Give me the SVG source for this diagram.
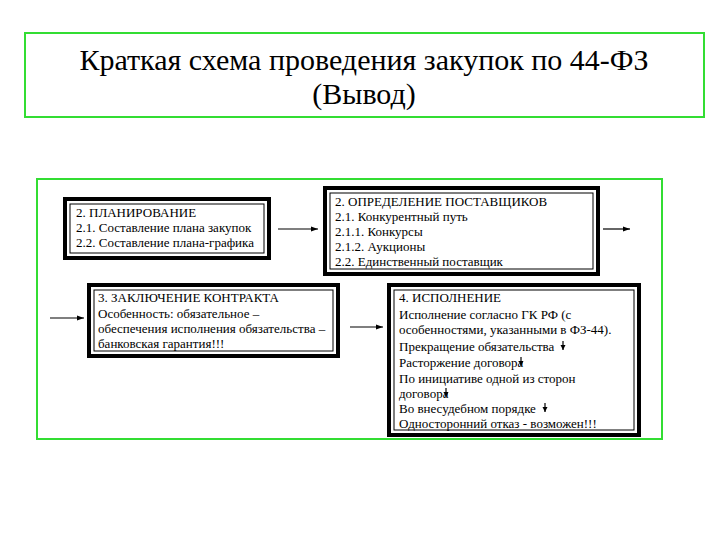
<svg xmlns="http://www.w3.org/2000/svg" width="720" height="540" viewBox="0 0 720 540">
<defs>
<style>
text{font-family:'Liberation Serif','DejaVu Serif','Times New Roman',serif;fill:#000}
.ti{font-size:30px}
.s{font-size:13px}
.g{fill:none;stroke:#33dd33;stroke-width:2}
.o{fill:#fff;stroke:#000;stroke-width:4}
.i{fill:none;stroke:#000;stroke-width:1}
.c{stroke:#000;stroke-width:1.2;fill:none}
</style>
<marker id="a" markerWidth="8" markerHeight="8" refX="7" refY="4" orient="auto" markerUnits="userSpaceOnUse"><path d="M0,1.5 L7,4 L0,6.5 z" fill="#000"/></marker>
<marker id="d" markerWidth="6" markerHeight="6" refX="5" refY="3" orient="auto" markerUnits="userSpaceOnUse"><path d="M0,0.5 L5,3 L0,5.5 z" fill="#000"/></marker>
</defs>
<rect width="720" height="540" fill="#fff"/>
<g id="title">
<rect class="g" x="25" y="33" width="679" height="84"/>
<text class="ti" x="364" y="70" text-anchor="middle">Краткая схема проведения закупок по 44-ФЗ</text>
<text class="ti" x="364" y="104" text-anchor="middle">(Вывод)</text>
</g>
<rect class="g" x="37" y="179" width="625" height="260" fill="#fefefe"/>
<g id="n1">
<rect class="o" x="65" y="199" width="204" height="59"/><rect class="i" x="70" y="204" width="194" height="49"/>
<text class="s"><tspan x="76" y="217">2. ПЛАНИРОВАНИЕ</tspan><tspan x="76" y="232">2.1. Составление плана закупок</tspan><tspan x="76" y="247">2.2. Составление плана-графика</tspan></text>
</g>
<g id="n2">
<rect class="o" x="325" y="188" width="273" height="86"/><rect class="i" x="330" y="193" width="263" height="76"/>
<text class="s"><tspan x="335" y="206">2. ОПРЕДЕЛЕНИЕ ПОСТАВЩИКОВ</tspan><tspan x="335" y="221">2.1. Конкурентный путь</tspan><tspan x="335" y="236">2.1.1. Конкурсы</tspan><tspan x="335" y="251">2.1.2. Аукционы</tspan><tspan x="335" y="266">2.2. Единственный поставщик</tspan></text>
</g>
<g id="n3">
<rect class="o" x="89" y="285" width="249" height="71"/><rect class="i" x="94" y="290" width="239" height="61"/>
<text class="s"><tspan x="98" y="302">3. ЗАКЛЮЧЕНИЕ КОНТРАКТА</tspan><tspan x="98" y="318">Особенность: обязательное –</tspan><tspan x="98" y="333">обеспечения исполнения обязательства –</tspan><tspan x="98" y="348">банковская гарантия!!!</tspan></text>
</g>
<g id="n4">
<rect class="o" x="389" y="285" width="250" height="150"/><rect class="i" x="394" y="290" width="240" height="140"/>
<text class="s"><tspan x="399" y="302">4. ИСПОЛНЕНИЕ</tspan><tspan x="399" y="319">Исполнение согласно ГК РФ (с</tspan><tspan x="399" y="334">особенностями, указанными в ФЗ-44).</tspan><tspan x="399" y="351">Прекращение обязательства</tspan><tspan x="399" y="367">Расторжение договора</tspan><tspan x="399" y="383">По инициативе одной из сторон</tspan><tspan x="399" y="398">договора</tspan><tspan x="399" y="413">Во внесудебном порядке</tspan><tspan x="399" y="428">Односторонний отказ - возможен!!!</tspan></text>
</g>
<g id="connectors">
<line class="c" x1="278" y1="229" x2="318" y2="229" marker-end="url(#a)"/>
<line class="c" x1="603" y1="229" x2="630" y2="229" marker-end="url(#a)"/>
<line class="c" x1="50" y1="318" x2="84" y2="318" marker-end="url(#a)"/>
<line class="c" x1="350" y1="327" x2="383" y2="327" marker-end="url(#a)"/>
<line class="c" x1="563" y1="341" x2="563" y2="350" marker-end="url(#d)"/>
<line class="c" x1="521" y1="357" x2="521" y2="366" marker-end="url(#d)"/>
<line class="c" x1="446" y1="388" x2="446" y2="397" marker-end="url(#d)"/>
<line class="c" x1="545" y1="403" x2="545" y2="412" marker-end="url(#d)"/>
</g>
</svg>
